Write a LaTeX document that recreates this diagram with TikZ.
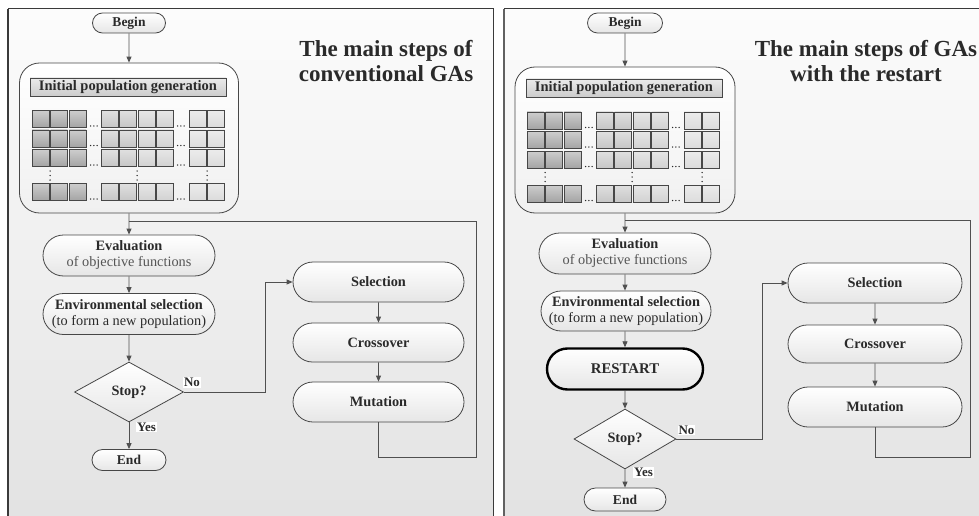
\documentclass[tikz,border=0pt]{standalone}
\usepackage{fontspec}
\setmainfont{Liberation Serif}
\usetikzlibrary{shapes.misc,shapes.geometric,arrows.meta}
\definecolor{txt}{HTML}{2A2A2A}
\definecolor{subt}{HTML}{555555}
\definecolor{bdr}{HTML}{474747}
\definecolor{lnc}{HTML}{505050}
\definecolor{boxbot}{HTML}{E6E6E6}
\definecolor{pbgtop}{HTML}{FCFCFC}
\definecolor{pbgbot}{HTML}{E2E2E2}
\definecolor{pbd}{HTML}{3A3A3A}
\definecolor{cdk}{HTML}{A4A4A4}
\definecolor{cmd}{HTML}{C6C6C6}
\definecolor{clt}{HTML}{D2D2D2}
\definecolor{cxl}{HTML}{DCDCDC}
\newcommand\popgrid[2]{%
  \begin{scope}[shift={(#1,#2)}]
    \foreach \c/\cl in {32/cdk,50.5/cdk,69/cdk,101/cmd,119.5/cmd,138/clt,156.5/clt,189/cxl,207.5/cxl}{
      \foreach \r in {110.5,130,149.5,183.5}{
        \draw[draw=bdr,line width=0.8pt,top color=\cl!55!white,bottom color=\cl] (\c,\r) rectangle ++(17,17);
      }}
    \foreach \r in {110.5,130,149.5,183.5}{
      \foreach \i in {0,1,2}{
        \fill[txt] (90.5+3.3*\i,\r+15.5) circle (0.75);
        \fill[txt] (177.5+3.3*\i,\r+15.5) circle (0.75);
      }}
    \foreach \xx in {50,137,207}{
      \foreach \i in {0,1,2}{
        \fill[txt] (\xx,171+4.5*\i) circle (0.75);
      }}
  \end{scope}}
\tikzset{
  box/.style={rounded rectangle, draw=bdr, line width=0.8pt, top color=white, bottom color=boxbot,
    text=txt, font=\fontsize{14.3}{16}\selectfont, inner sep=0pt, align=center},
  bigbox/.style={rectangle, rounded corners=20pt, draw=bdr, line width=0.8pt, top color=white, bottom color=boxbot!60!white, inner sep=0pt},
  labbox/.style={rectangle, draw=bdr, line width=0.8pt, top color=white!92!black, bottom color=white!80!black,
    text=txt, font=\fontsize{14.5}{16}\selectfont\bfseries, inner sep=0pt},
  dec/.style={diamond, draw=bdr, line width=0.8pt, top color=white, bottom color=boxbot, inner sep=0pt,
    text=txt, font=\fontsize{14.3}{16}\selectfont\bfseries},
  rst/.style={rounded rectangle, draw=black, line width=2.4pt, top color=white, bottom color=boxbot,
    text=txt, font=\fontsize{14.8}{16}\selectfont\bfseries, inner sep=0pt},
  yn/.style={fill=white, inner sep=1pt, text=txt, font=\fontsize{13}{14}\selectfont\bfseries},
  ttl/.style={align=center, text=txt, font=\fontsize{23}{25}\selectfont\bfseries},
  arr/.style={draw=lnc, line width=0.9pt, -{Triangle[length=6pt,width=5pt]}},
  ln/.style={draw=lnc, line width=0.9pt}
}
\begin{document}
\begin{tikzpicture}[x=1pt,y=-1pt]
\useasboundingbox (0,0) rectangle (979,516);
\fill[white] (0,0) rectangle (979,516);
\begin{scope}
  \clip (0,0) rectangle (979,516);
  \shade[top color=pbgtop, bottom color=pbgbot] (8,9) rectangle (493,530);
  \draw[pbd, line width=1pt] (493,530) -- (493,9) -- (8,9);
  \draw[pbd, line width=1.6pt] (8,9) -- (8,530);
  \shade[top color=pbgtop, bottom color=pbgbot] (504,9) rectangle (990,530);
  \draw[pbd, line width=1pt] (504,9) -- (990,9);
  \draw[pbd!80!white, line width=1.6pt] (504,9) -- (504,530);
\end{scope}

% ---------------- left panel ----------------
\node[ttl] (titL) at (386,61) {The main steps of\\conventional GAs};
\node[box, minimum width=73, minimum height=20, font=\fontsize{13.5}{15}\selectfont\bfseries] (beginL) at (129,23) {Begin};
\node[bigbox, minimum width=219, minimum height=150] (bigL) at (129,138) {};
\node[labbox, minimum width=196, minimum height=18] (labL) at (128,87) {Initial population generation};
\popgrid{0}{0}
\node[box, minimum width=172, minimum height=41] (evalL) at (129,255.5) {\textbf{Evaluation}\\\textcolor{subt}{of objective functions}};
\node[box, minimum width=172, minimum height=41] (envL) at (129,314) {\textbf{Environmental selection}\\(to form a new population)};
\node[dec, minimum width=109, minimum height=60] (stopL) at (129,392) {Stop?};
\node[box, minimum width=74, minimum height=21, font=\fontsize{13.5}{15}\selectfont\bfseries] (endL) at (129,460) {End};
\node[box, minimum width=171, minimum height=40, font=\fontsize{14.3}{16}\selectfont\bfseries] (selL) at (378.5,282) {Selection};
\node[box, minimum width=171, minimum height=39, font=\fontsize{14.3}{16}\selectfont\bfseries] (croL) at (378.5,342.5) {Crossover};
\node[box, minimum width=171, minimum height=40, font=\fontsize{14.3}{16}\selectfont\bfseries] (mutL) at (378.5,402) {Mutation};
\coordinate (jL) at (129,221);
\coordinate (fL) at (476,457);
\coordinate (kL) at (265,282);
\draw[arr] (beginL) -- (bigL);
\draw[arr] (bigL) -- (evalL);
\draw[arr] (evalL) -- (envL);
\draw[arr] (envL) -- (stopL);
\draw[arr] (stopL) -- (endL);
\draw[arr] (stopL.east) -| (kL) -- (selL.west);
\draw[arr] (selL) -- (croL);
\draw[arr] (croL) -- (mutL);
\draw[ln] (mutL.south) |- (fL) |- (jL);
\node[yn] (noL) at (192,382.5) {No};
\node[yn] (yesL) at (146.5,427) {Yes};

% ---------------- right panel ----------------
\node[ttl] (titR) at (866,61) {The main steps of GAs\\with the restart};
\node[box, minimum width=75, minimum height=20, font=\fontsize{13.5}{15}\selectfont\bfseries] (beginR) at (625,23) {Begin};
\node[bigbox, minimum width=220, minimum height=146] (bigR) at (625,140) {};
\node[labbox, minimum width=196, minimum height=18] (labR) at (624,88) {Initial population generation};
\popgrid{495}{1.5}
\node[box, minimum width=172, minimum height=41] (evalR) at (625,253.5) {\textbf{Evaluation}\\\textcolor{subt}{of objective functions}};
\node[box, minimum width=170, minimum height=40] (envR) at (626,311) {\textbf{Environmental selection}\\(to form a new population)};
\node[rst, minimum width=156, minimum height=41] (rstR) at (625,369) {RESTART};
\node[dec, minimum width=102, minimum height=60] (stopR) at (625,439) {Stop?};
\node[box, minimum width=82, minimum height=23, font=\fontsize{13.5}{15}\selectfont\bfseries] (endR) at (625,499.5) {End};
\node[box, minimum width=174, minimum height=40, font=\fontsize{14.3}{16}\selectfont\bfseries] (selR) at (875,283) {Selection};
\node[box, minimum width=174, minimum height=38, font=\fontsize{14.3}{16}\selectfont\bfseries] (croR) at (875,344) {Crossover};
\node[box, minimum width=174, minimum height=40, font=\fontsize{14.3}{16}\selectfont\bfseries] (mutR) at (875,407) {Mutation};
\coordinate (jR) at (625,220);
\coordinate (fR) at (970,457);
\coordinate (kR) at (762,283);
\draw[arr] (beginR) -- (bigR);
\draw[arr] (bigR) -- (evalR);
\draw[arr] (evalR) -- (evalR |- envR.north);
\draw[arr] (envR.south -| rstR) -- (rstR);
\draw[arr] (rstR) -- (stopR);
\draw[arr] (stopR) -- (endR);
\draw[arr] (stopR.east) -| (kR) -- (selR.west);
\draw[arr] (selR) -- (croR);
\draw[arr] (croR) -- (mutR);
\draw[ln] (mutR.south) |- (fR) |- (jR);
\node[yn] (noR) at (686.5,430) {No};
\node[yn] (yesR) at (643.5,472.5) {Yes};
\end{tikzpicture}
\end{document}
